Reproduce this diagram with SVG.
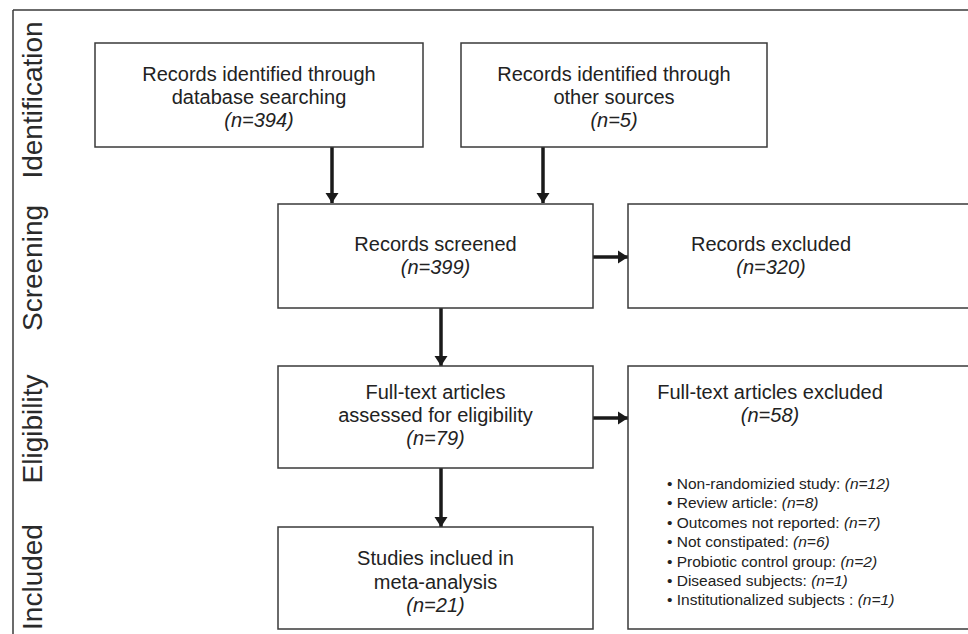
<svg xmlns="http://www.w3.org/2000/svg" width="968" height="634" viewBox="0 0 968 634">
<style>
  .box { fill: #ffffff; stroke: #3a3a3a; stroke-width: 1.5; }
  .frame { stroke: #3a3a3a; stroke-width: 1.5; fill: none; }
  .t { font-family: "Liberation Sans", Arial, sans-serif; font-size: 20px; fill: #222; text-anchor: middle; }
  .i { font-style: italic; }
  .side { font-family: "Liberation Sans", Arial, sans-serif; font-size: 28px; fill: #2a2a2a; text-anchor: middle; }
  .b { font-family: "Liberation Sans", Arial, sans-serif; font-size: 15.5px; fill: #222; }
  .conn { stroke: #1a1a1a; stroke-width: 3.5; fill: none; }
</style>
<defs>
  <marker id="ah" markerUnits="userSpaceOnUse" markerWidth="14" markerHeight="14" refX="10" refY="7" orient="auto">
    <path d="M0,0.5 L10,7 L0,13.5 Z" fill="#1a1a1a"/>
  </marker>
</defs>
<rect width="968" height="634" fill="#ffffff"/>
<g id="frame">
  <line class="frame" x1="13" y1="10" x2="968" y2="10"/>
  <line class="frame" x1="13" y1="10" x2="13" y2="634"/>
</g>
<g id="phase-labels">
  <text class="side" transform="translate(42,100) rotate(-90)">Identification</text>
  <text class="side" transform="translate(42,268) rotate(-90)">Screening</text>
  <text class="side" transform="translate(42,429) rotate(-90)">Eligibility</text>
  <text class="side" transform="translate(42,577) rotate(-90)">Included</text>
</g>
<g id="connectors">
  <line class="conn" x1="332" y1="147" x2="332" y2="203" marker-end="url(#ah)"/>
  <line class="conn" x1="543" y1="147" x2="543" y2="203" marker-end="url(#ah)"/>
  <line class="conn" x1="593" y1="257" x2="628" y2="257" marker-end="url(#ah)"/>
  <line class="conn" x1="441" y1="308" x2="441" y2="366" marker-end="url(#ah)"/>
  <line class="conn" x1="593" y1="418" x2="628" y2="418" marker-end="url(#ah)"/>
  <line class="conn" x1="441" y1="468" x2="441" y2="527" marker-end="url(#ah)"/>
</g>
<g id="db-search">
  <rect class="box" x="95" y="43" width="328" height="104"/>
  <text class="t" x="259" y="81">Records identified through</text>
  <text class="t" x="259" y="104">database searching</text>
  <text class="t i" x="259" y="127">(n=394)</text>
</g>
<g id="other-sources">
  <rect class="box" x="461" y="43" width="306" height="104"/>
  <text class="t" x="614" y="81">Records identified through</text>
  <text class="t" x="614" y="104">other sources</text>
  <text class="t i" x="614" y="127">(n=5)</text>
</g>
<g id="screened">
  <rect class="box" x="278" y="204" width="315" height="104"/>
  <text class="t" x="435.5" y="251">Records screened</text>
  <text class="t i" x="435.5" y="274">(n=399)</text>
</g>
<g id="excluded">
  <rect class="box" x="628" y="204" width="360" height="104"/>
  <text class="t" x="771" y="251">Records excluded</text>
  <text class="t i" x="771" y="274">(n=320)</text>
</g>
<g id="fulltext">
  <rect class="box" x="278" y="366" width="315" height="102"/>
  <text class="t" x="435.5" y="399">Full-text articles</text>
  <text class="t" x="435.5" y="422">assessed for eligibility</text>
  <text class="t i" x="435.5" y="445">(n=79)</text>
</g>
<g id="fulltext-excluded">
  <rect class="box" x="628" y="366" width="360" height="263"/>
  <text class="t" x="770" y="399">Full-text articles excluded</text>
  <text class="t i" x="770" y="422">(n=58)</text>
  <text class="b" x="667" y="489">• Non-randomizied study: <tspan class="i">(n=12)</tspan></text>
  <text class="b" x="667" y="508.4">• Review article: <tspan class="i">(n=8)</tspan></text>
  <text class="b" x="667" y="527.8">• Outcomes not reported: <tspan class="i">(n=7)</tspan></text>
  <text class="b" x="667" y="547.2">• Not constipated: <tspan class="i">(n=6)</tspan></text>
  <text class="b" x="667" y="566.6">• Probiotic control group: <tspan class="i">(n=2)</tspan></text>
  <text class="b" x="667" y="586">• Diseased subjects: <tspan class="i">(n=1)</tspan></text>
  <text class="b" x="667" y="605.4">• Institutionalized subjects : <tspan class="i">(n=1)</tspan></text>
</g>
<g id="included">
  <rect class="box" x="278" y="527" width="315" height="102"/>
  <text class="t" x="435.5" y="565">Studies inclued in</text>
  <text class="t" x="435.5" y="589">meta-analysis</text>
  <text class="t i" x="435.5" y="612">(n=21)</text>
</g>
</svg>
